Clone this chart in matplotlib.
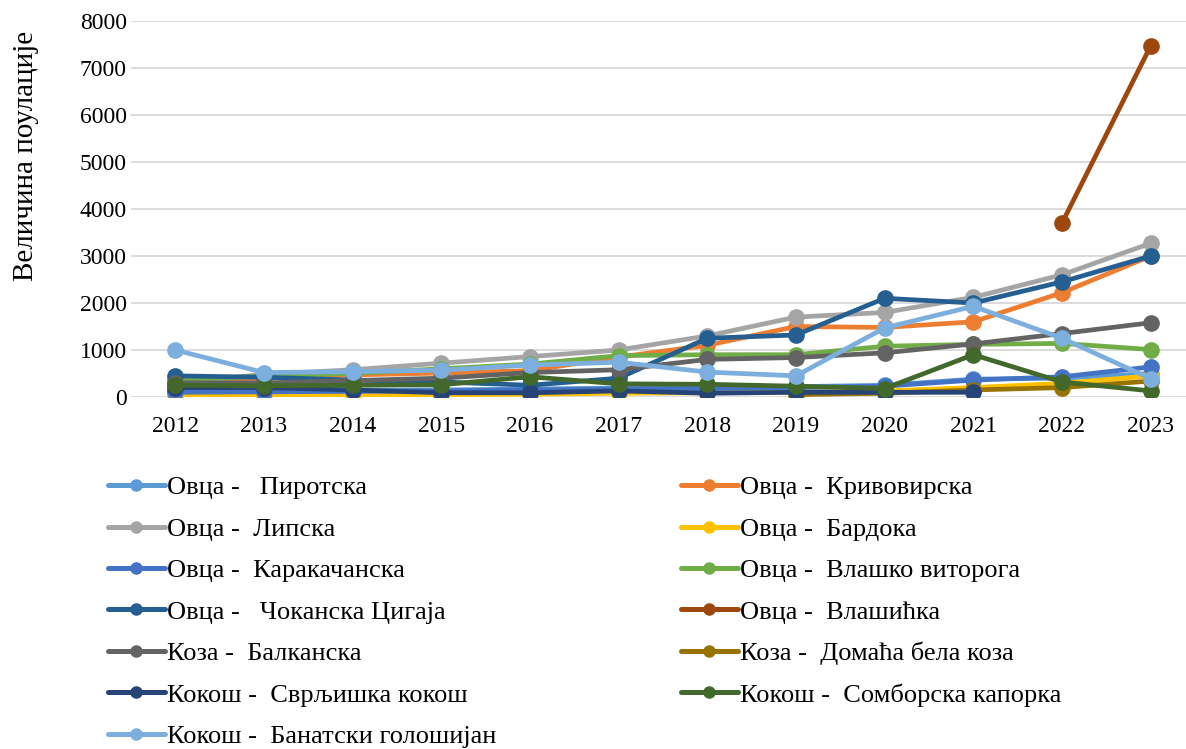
import numpy as np
import matplotlib
matplotlib.use('Agg')
import matplotlib.pyplot as plt
from matplotlib.lines import Line2D

plt.rcParams['font.family'] = ['Liberation Serif', 'DejaVu Serif']

nan = np.nan
years = [2012, 2013, 2014, 2015, 2016, 2017, 2018, 2019, 2020, 2021, 2022, 2023]

labels = [
    'Овца -   Пиротска',
    'Овца -  Кривовирска',
    'Овца -  Липска',
    'Овца -  Бардока',
    'Овца -  Каракачанска',
    'Овца -  Влашко виторога',
    'Овца -   Чоканска Цигаја',
    'Овца -  Влашићка',
    'Коза -  Балканска',
    'Коза -  Домаћа бела коза',
    'Кокош -  Сврљишка кокош',
    'Кокош -  Сомборска капорка',
    'Кокош -  Банатски голошијан',
]

pirotska = [120, 130, 140, 150, 170, 190, 200, 220, 250, 380, 400, 500]
krivovirska = [350, 400, 470, 510, 560, 850, 1100, 1500, 1480, 1600, 2220, 3000]
lipska = [300, 480, 580, 720, 860, 1000, 1300, 1700, 1800, 2120, 2600, 3270]
bardoka = [50, 50, 30, 50, 60, 80, 90, 100, 130, 200, 290, 450]
karakacanska = [100, 110, 120, 130, 150, 170, 180, 200, 230, 360, 430, 640]
vitoroga = [350, 450, 500, 600, 700, 880, 900, 900, 1080, 1120, 1140, 1010]
cokanska = [450, 420, 360, 320, 250, 400, 1250, 1320, 2100, 2000, 2450, 3000]
vlasicka = [nan] * 10 + [3700, 7470]
balkanska = [300, 300, 350, 400, 520, 580, 800, 840, 940, 1130, 1350, 1580]
domaca = [nan] * 7 + [50, 80, 150, 200, 340]
svrljiska = [200, 200, 150, 90, 90, 130, 80, 100, 100, 100, nan, nan]
somborska = [250, 240, 250, 260, 430, 280, 270, 230, 180, 900, 320, 130]
banatski = [1000, 520, 540, 570, 680, 740, 530, 450, 1470, 1930, 1250, 390]

series = [pirotska, krivovirska, lipska, bardoka, karakacanska, vitoroga, cokanska,
          vlasicka, balkanska, domaca, svrljiska, somborska, banatski]
colors = ['#5B9BD5', '#ED7D31', '#A5A5A5', '#FFC000', '#4472C4', '#70AD47', '#255E91',
          '#9E480E', '#636363', '#997300', '#264478', '#43682B', '#7CAFDD']

fig = plt.figure(figsize=(11.86, 7.49), dpi=100)
ax = fig.add_axes([131 / 1186, 1 - 397 / 749, 1064 / 1186, 376 / 749])

x = np.arange(len(years))
for vals, col, lab in zip(series, colors, labels):
    ax.plot(x, vals, color=col, lw=3.4, marker='o', ms=11, label=lab,
            solid_capstyle='round', zorder=3)

ax.set_xlim(-0.5, len(years) - 0.5)
ax.set_ylim(0, 8000)
ax.set_yticks(range(0, 8001, 1000))
ax.set_xticks(x)
ax.set_xticklabels([str(y) for y in years])
ax.tick_params(length=0, labelsize=17)
ax.tick_params(axis='x', pad=14)
ax.tick_params(axis='y', pad=3)
ax.grid(axis='y', color='#D9D9D9', lw=1.3)
ax.set_axisbelow(True)
for s in ax.spines.values():
    s.set_visible(False)
ax.set_ylabel('Величина поулације', fontsize=21)
ax.yaxis.set_label_coords(-92 / 1064, (397 - 156) / 376)

handles = [Line2D([], [], color=c, lw=3.6, marker='o', ms=8, solid_capstyle='round')
           for c in colors]
left_idx = [0, 2, 4, 6, 8, 10, 12]
right_idx = [1, 3, 5, 7, 9, 11]
kw = dict(frameon=False, fontsize=19, handlelength=2.15, handletextpad=0.1,
          labelspacing=0.68, borderpad=0, borderaxespad=0)
top = 1 - 476 / 749
leg1 = fig.legend([handles[i] for i in left_idx], [labels[i] for i in left_idx],
                  loc='upper left', bbox_to_anchor=(108 / 1186, top), **kw)
leg2 = fig.legend([handles[i] for i in right_idx], [labels[i] for i in right_idx],
                  loc='upper left', bbox_to_anchor=(681 / 1186, top), **kw)

fig.savefig('out.png', dpi=100)
